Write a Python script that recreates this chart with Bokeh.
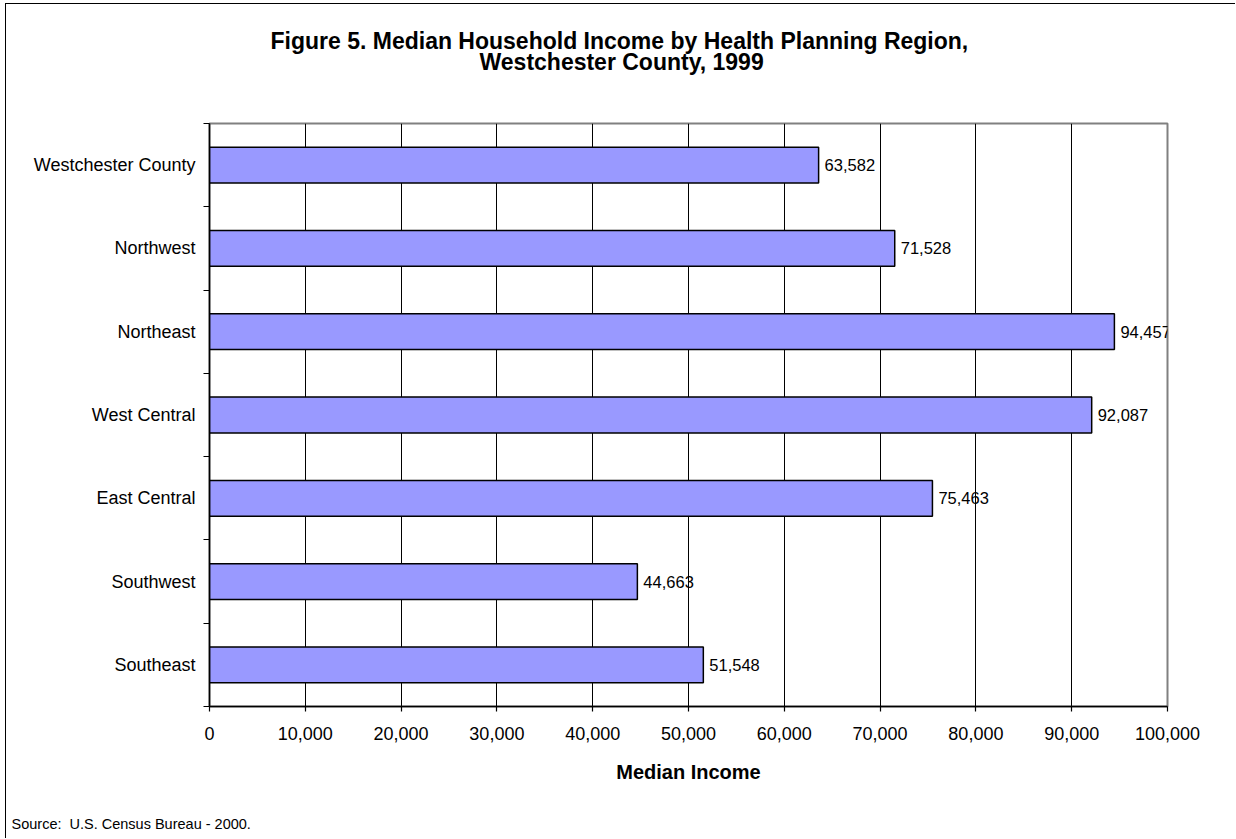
from bokeh.plotting import figure
from bokeh.models import Range1d, FixedTicker, Title, ColumnDataSource
from bokeh.core.properties import value
from bokeh.embed import file_html
from bokeh.resources import INLINE

# ---- data ----
regions = ["Westchester County", "Northwest", "Northeast", "West Central",
           "East Central", "Southwest", "Southeast"]
incomes = [63582, 71528, 94457, 92087, 75463, 44663, 51548]
x_ticks = [0, 10000, 20000, 30000, 40000, 50000, 60000, 70000, 80000, 90000, 100000]
x_tick_labels = ["0", "10,000", "20,000", "30,000", "40,000", "50,000",
                 "60,000", "70,000", "80,000", "90,000", "100,000"]
title_line1 = "Figure 5. Median Household Income by Health Planning Region,"
title_line2 = "Westchester County, 1999"
x_title = "Median Income"
source_note = "Source:\u00a0 U.S. Census Bureau - 2000."

FONT = "Liberation Sans"
n = len(regions)
ycent = [n - i - 0.5 for i in range(n)]

p = figure(width=1230, height=835, output_backend="svg", toolbar_location=None,
           x_range=Range1d(0, 100000), y_range=Range1d(0, n),
           min_border_left=203, min_border_top=119, min_border_right=69,
           min_border_bottom=133)
p.styles = {"border-left": "1px solid #000", "border-top": "1px solid #000",
            "margin-left": "5px", "margin-top": "3px"}
p.background_fill_color = "white"
p.border_fill_color = "white"
p.outline_line_color = "#808080"
p.outline_line_width = 2

src = ColumnDataSource(dict(y=ycent, x=incomes, name=regions,
                            lab=[f"{v:,}" for v in incomes]))

p.hbar(y="y", right="x", left=0, height=0.43, source=src,
       fill_color="#9999FF", line_color="black", line_width=1.5)
p.text(x="x", y="y", text="lab", source=src, x_offset=6,
       text_baseline="middle", text_align="left",
       text_font=value(FONT), text_font_size="16.5px", text_color="black")

# x axis
xa = p.xaxis[0]
xa.ticker = FixedTicker(ticks=x_ticks)
xa.major_label_overrides = {t: l for t, l in zip(x_ticks, x_tick_labels)}
xa.major_label_text_font = FONT
xa.major_label_text_font_size = "18px"
xa.major_label_text_color = "black"
xa.major_label_standoff = 15
xa.major_tick_out = 5
xa.major_tick_in = 0
xa.minor_tick_out = 0
xa.minor_tick_in = 0
xa.axis_line_color = "black"
xa.axis_line_width = 1.5
xa.major_tick_line_color = "black"
xa.major_tick_line_width = 1.2
xa.axis_label = x_title
xa.axis_label_text_font = FONT
xa.axis_label_text_font_style = "bold"
xa.axis_label_text_font_size = "20px"
xa.axis_label_text_color = "black"
xa.axis_label_standoff = 18

# y axis
ya = p.yaxis[0]
ya.ticker = FixedTicker(ticks=ycent, minor_ticks=list(range(n + 1)))
ya.major_label_overrides = {y: r for y, r in zip(ycent, regions)}
ya.major_label_text_font = FONT
ya.major_label_text_font_size = "18px"
ya.major_label_text_color = "black"
ya.major_label_standoff = 8
ya.major_tick_out = 0
ya.major_tick_in = 0
ya.minor_tick_out = 6
ya.minor_tick_in = 0
ya.minor_tick_line_color = "black"
ya.minor_tick_line_width = 1.2
ya.axis_line_color = "black"
ya.axis_line_width = 1.5

p.xgrid.ticker = FixedTicker(ticks=x_ticks[1:-1])
p.xgrid.grid_line_color = "black"
p.xgrid.grid_line_width = 1
p.ygrid.grid_line_color = None

# spacer above the frame, then the two title lines stacked upward
p.add_layout(Title(text="\u00a0", text_font_size="1px", standoff=45.5), "above")
p.add_layout(Title(text=title_line2, align="left", offset=270,
                   text_font=FONT, text_font_size="23px",
                   text_font_style="bold", text_color="black",
                   standoff=0), "above")
p.add_layout(Title(text=title_line1, align="left", offset=61,
                   text_font=FONT, text_font_size="23px",
                   text_font_style="bold", text_color="black",
                   standoff=-14), "above")
# spacer below the axis, then the source note
p.add_layout(Title(text="\u00a0", text_font_size="1px", standoff=25), "below")
p.add_layout(Title(text=source_note, align="left", offset=-198,
                   text_font=FONT, text_font_size="14.5px",
                   text_font_style="normal", text_color="black",
                   standoff=0), "below")

open("out.html", "w").write(file_html(p, INLINE))
